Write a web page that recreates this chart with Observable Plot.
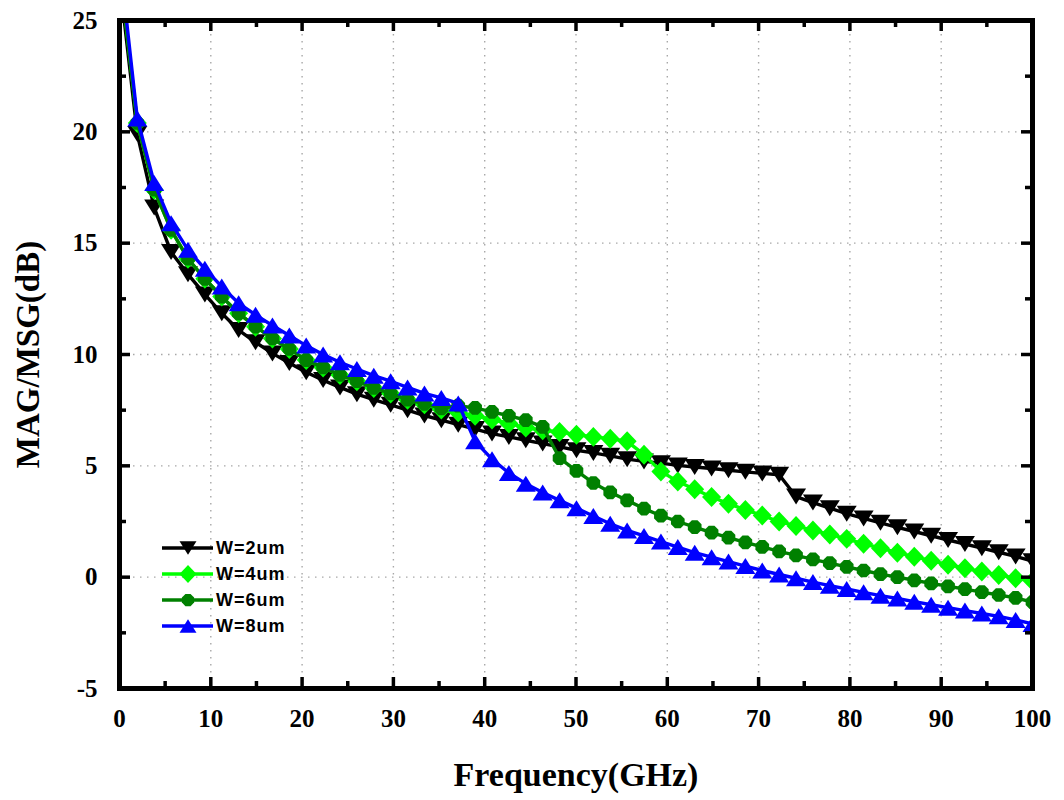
<!DOCTYPE html>
<html><head><meta charset="utf-8">
<script src="https://cdn.jsdelivr.net/npm/d3@7"></script>
<script src="https://cdn.jsdelivr.net/npm/@observablehq/plot@0.6"></script>
<style>
body{margin:0;background:#fff}
#chart{position:relative;width:1064px;height:800px}
</style>
</head><body><div id="chart"></div>
<script>
// ---- data ----
const freq = [0.1,1.95,3.8,5.65,7.5,9.35,11.2,13.05,14.9,16.75,18.6,20.45,22.3,24.15,26,27.85,29.7,31.55,33.4,35.25,37.1,38.95,40.8,42.65,44.5,46.35,48.2,50.05,51.9,53.75,55.6,57.45,59.3,61.15,63,64.85,66.7,68.55,70.4,72.25,74.1,75.95,77.8,79.65,81.5,83.35,85.2,87.05,88.9,90.75,92.6,94.45,96.3,98.15,100];
const magW2 = [26.5,19.9,16.6,14.6,13.6,12.7,11.85,11.1,10.55,10.05,9.62,9.2,8.85,8.52,8.22,7.97,7.74,7.5,7.26,7.05,6.85,6.65,6.45,6.3,6.15,6.0,5.85,5.7,5.58,5.45,5.3,5.2,5.12,5.02,4.95,4.88,4.8,4.73,4.66,4.6,3.62,3.35,3.1,2.85,2.64,2.44,2.24,2.05,1.86,1.67,1.49,1.3,1.12,0.93,0.72];
const magW4 = [27.0,20.4,17.4,15.6,14.3,13.4,12.6,11.85,11.25,10.72,10.25,9.75,9.42,9.08,8.8,8.5,8.25,7.97,7.76,7.53,7.4,7.25,7.08,6.9,6.72,6.6,6.52,6.4,6.3,6.22,6.1,5.5,4.75,4.3,3.95,3.6,3.3,3.02,2.77,2.5,2.3,2.1,1.92,1.72,1.5,1.3,1.1,0.92,0.74,0.56,0.4,0.25,0.1,-0.05,-0.18];
const magW6 = [27.0,20.4,17.4,15.6,14.3,13.4,12.6,11.85,11.25,10.72,10.25,9.75,9.42,9.08,8.8,8.5,8.25,7.97,7.78,7.58,7.7,7.6,7.42,7.25,7.05,6.75,5.35,4.77,4.23,3.81,3.45,3.08,2.76,2.5,2.25,2.0,1.78,1.56,1.36,1.16,0.98,0.8,0.63,0.46,0.3,0.14,0.0,-0.14,-0.28,-0.41,-0.54,-0.67,-0.8,-0.93,-1.12];
const magW8 = [27.5,20.6,17.7,15.9,14.7,13.85,13.05,12.3,11.78,11.3,10.85,10.4,10.0,9.65,9.35,9.05,8.8,8.52,8.25,8.05,7.8,6.1,5.3,4.68,4.2,3.8,3.45,3.1,2.75,2.4,2.1,1.85,1.6,1.35,1.1,0.9,0.7,0.5,0.3,0.12,-0.05,-0.22,-0.38,-0.53,-0.68,-0.83,-0.96,-1.1,-1.24,-1.37,-1.5,-1.63,-1.76,-1.92,-2.1];
const seriesNames = ["W=2um","W=4um","W=6um","W=8um"];
const seriesColors = ["#000000","#00ff00","#008000","#0000ff"];
const xTicks = [0,10,20,30,40,50,60,70,80,90,100];
const xMinor = [5,15,25,35,45,55,65,75,85,95];
const yTicks = [-5,0,5,10,15,20,25];
const yMinor = [-2.5,2.5,7.5,12.5,17.5,22.5];
const xTitle = "Frequency(GHz)";
const yTitle = "MAG/MSG(dB)";

// ---- symbols (size -> r) ----
const rad = s => Math.sqrt(s / Math.PI);
const triDown = {draw(c, s){const r = rad(s); c.moveTo(-r,-0.8*r); c.lineTo(r,-0.8*r); c.lineTo(0,0.8*r); c.closePath();}};
const triUp = {draw(c, s){const r = rad(s); c.moveTo(0,-0.8*r); c.lineTo(r,0.8*r); c.lineTo(-r,0.8*r); c.closePath();}};
const diamond = {draw(c, s){const r = rad(s); c.moveTo(0,-1.05*r); c.lineTo(r,0); c.lineTo(0,1.05*r); c.lineTo(-r,0); c.closePath();}};
const octagon = {draw(c, s){const r = rad(s)*0.78; for(let i=0;i<8;i++){const a=Math.PI/8+i*Math.PI/4; const x=r*Math.cos(a), y=r*Math.sin(a); if(i===0)c.moveTo(x,y); else c.lineTo(x,y);} c.closePath();}};
const symbols = [triDown, diamond, octagon, triUp];
const values = [magW2, magW4, magW6, magW8];
const markR = [10, 9.5, 9.5, 10];

const W = 1064, H = 800, mL = 119, mR = 32, mT = 20, mB = 112;
const pw = W - mL - mR, ph = H - mT - mB;
const idx = d3.range(freq.length);

const seriesMarks = [];
for (let s = 0; s < 4; s++) {
  const v = values[s];
  seriesMarks.push(Plot.line(idx, {x: i => freq[i], y: i => v[i], stroke: seriesColors[s], strokeWidth: 3.4, clip: true}));
  seriesMarks.push(Plot.dot(idx, {x: i => freq[i], y: i => v[i], symbol: symbols[s], r: markR[s], fill: seriesColors[s], stroke: "none", clip: true}));
}

const tk = {stroke: "black", strokeWidth: 3.5};
const grid = {stroke: "#a8a8a8", strokeOpacity: 1, strokeWidth: 1.4, strokeDasharray: "1.5,5.5"};
const chart = Plot.plot({
  width: W, height: H,
  marginLeft: mL, marginRight: mR, marginTop: mT, marginBottom: mB,
  x: {domain: [0, 100]},
  y: {domain: [-5, 25]},
  style: {fontFamily: "'Liberation Serif', 'Times New Roman', serif", fontWeight: "bold", background: "#fff", color: "#000"},
  marks: [
    Plot.gridX(xTicks.filter(d => d > 0 && d < 100), grid),
    Plot.gridY(yTicks.filter(d => d > -5 && d < 25), grid),
    ...seriesMarks,
    Plot.tickX(xTicks, {...tk, insetTop: ph - 11}),
    Plot.tickX(xMinor, {...tk, insetTop: ph - 7}),
    Plot.tickX(xTicks, {...tk, insetBottom: ph - 11}),
    Plot.tickX(xMinor, {...tk, insetBottom: ph - 7}),
    Plot.tickY(yTicks, {...tk, insetRight: pw - 11}),
    Plot.tickY(yMinor, {...tk, insetRight: pw - 7}),
    Plot.tickY(yTicks, {...tk, insetLeft: pw - 11}),
    Plot.tickY(yMinor, {...tk, insetLeft: pw - 7}),
    Plot.frame({stroke: "black", strokeWidth: 5}),
    Plot.axisX(xTicks, {tickSize: 0, tickPadding: 21, fontSize: 25, fontWeight: "bold", label: null, tickFormat: d => String(d)}),
    Plot.axisY(yTicks, {tickSize: 0, tickPadding: 22, fontSize: 25, fontWeight: "bold", label: null, tickFormat: d => String(d)}),
    Plot.text([xTitle], {frameAnchor: "bottom", textAnchor: "middle", lineAnchor: "middle", dy: 87, fontSize: 34, fontWeight: "bold"}),
    Plot.text([yTitle], {frameAnchor: "left", textAnchor: "middle", lineAnchor: "middle", rotate: -90, dx: -91, fontSize: 33, fontWeight: "bold"})
  ]
});
document.getElementById("chart").appendChild(chart);

// ---- legend ----
const svg = d3.select(chart);
const lg = svg.append("g").attr("class", "legend");
const legY = [548, 574, 600, 626];
seriesNames.forEach((name, s) => {
  const y = legY[s];
  lg.append("line").attr("x1", 162).attr("x2", 213).attr("y1", y).attr("y2", y)
    .attr("stroke", seriesColors[s]).attr("stroke-width", 3.4);
  lg.append("path").attr("d", d3.symbol(symbols[s], Math.PI * 8.5 * 8.5)())
    .attr("transform", `translate(188,${y})`).attr("fill", seriesColors[s]);
  lg.append("text").attr("x", 216).attr("y", y).attr("dy", "0.36em")
    .attr("text-anchor", "start")
    .attr("font-family", "'Liberation Sans', Arial, sans-serif").attr("font-weight", "bold")
    .attr("font-size", 18).attr("letter-spacing", 1).attr("fill", "#000").text(name);
});
</script>
</body></html>
